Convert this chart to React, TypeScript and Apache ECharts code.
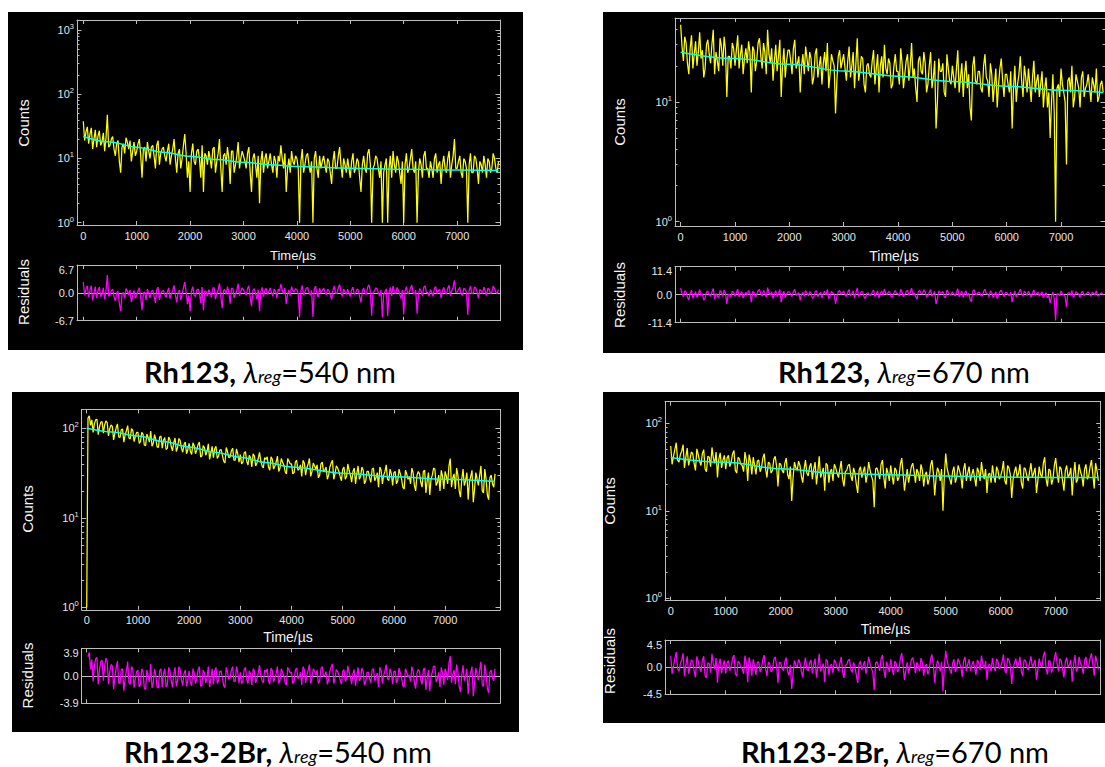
import React, { useEffect, useRef } from "react";
import * as echarts from "echarts";

// ---------------- data ----------------
const STEP_US = 25; // channel width of the decay histograms (µs)
const X_TICKS = [0, 1000, 2000, 3000, 4000, 5000, 6000, 7000];

// Rh123, λreg = 540 nm
const P1_COUNTS = [
  38, 19, 26, 31, 17, 24, 30, 14, 20, 28, 15, 22, 27, 16, 18, 25, 13, 21, 48, 15,
  16, 20, 22, 14, 11, 17, 19, 9, 6, 15, 17, 12, 21, 18, 14, 19, 9, 13, 18, 11,
  13, 17, 20, 11, 5, 14, 15, 9, 18, 13, 10, 15, 16, 11, 7, 16, 19, 8, 12, 14,
  15, 11, 9, 13, 17, 8, 11, 14, 20, 10, 6, 12, 14, 7, 10, 16, 24, 12, 5, 9,
  3, 12, 17, 9, 8, 13, 14, 10, 5, 16, 3, 12, 11, 8, 13, 10, 7, 14, 15, 6,
  9, 12, 20, 7, 3, 11, 12, 8, 15, 10, 4, 13, 13, 6, 8, 11, 18, 7, 10, 13,
  11, 9, 7, 12, 15, 6, 3, 10, 12, 8, 5, 11, 2, 9, 13, 6, 10, 12, 7, 9,
  12, 8, 6, 11, 9, 5, 11, 9, 16, 10, 7, 12, 3, 7, 10, 6, 13, 9, 8, 11,
  10, 7, 1, 9, 14, 6, 8, 11, 12, 8, 6, 9, 1, 10, 13, 7, 5, 11, 7, 9,
  11, 8, 6, 10, 9, 6, 4, 9, 13, 7, 7, 11, 15, 8, 5, 10, 8, 6, 10, 7,
  5, 9, 12, 6, 7, 10, 9, 5, 3, 8, 11, 7, 6, 12, 14, 8, 1, 7, 8, 11,
  10, 7, 5, 9, 1, 6, 8, 10, 1, 7, 11, 5, 13, 8, 6, 11, 9, 6, 4, 9,
  1, 8, 12, 6, 7, 10, 14, 7, 6, 9, 1, 6, 10, 8, 5, 11, 13, 7, 7, 5,
  9, 7, 5, 10, 12, 6, 8, 9, 4, 8, 11, 7, 6, 10, 13, 5, 8, 11, 20, 7,
  7, 9, 11, 6, 5, 10, 9, 7, 1, 8, 12, 6, 6, 11, 10, 7, 4, 9, 8, 6,
  11, 8, 5, 10, 9, 6, 7, 12, 10, 7, 6, 9,
];
const P1_RESID = [
  2.6, -0.6, 0.9, 1.7, -1.0, 0.6, 1.7, -1.8, -0.1, 1.5, -1.3, 0.5, 1.4, -0.9, -0.3, 1.2, -1.6, 0.5, 4.3, -0.8,
  -0.5, 0.5, 0.9, -0.9, -1.9, -0.1, 0.4, -2.6, -4.4, -0.4, 0.1, -1.3, 1.0, 0.5, -0.5, 0.7, -2.2, -0.7, 0.6, -1.3,
  -0.6, 0.5, 1.2, -1.1, -4.2, -0.1, 0.2, -1.7, 0.9, -0.2, -1.2, 0.4, 0.6, -0.7, -2.4, 0.7, 1.4, -1.7, -0.2, 0.4,
  0.6, -0.4, -1.1, 0.2, 1.2, -1.4, -0.3, 0.6, 1.8, -0.5, -2.3, 0.1, 0.7, -1.7, -0.4, 1.2, 2.6, 0.3, -2.7, -0.6,
  -4.5, 0.4, 1.5, -0.6, -0.9, 0.7, 0.9, -0.1, -2.4, 1.4, -4.2, 0.5, 0.3, -0.7, 0.8, 0.0, -1.1, 1.1, 1.3, -1.5,
  -0.2, 0.7, 2.3, -0.9, -3.7, 0.5, 0.8, -0.4, 1.5, 0.3, -2.6, 1.1, 1.1, -1.2, -0.3, 0.6, 2.2, -0.7, 0.4, 1.2,
  0.7, 0.1, -0.6, 1.0, 1.7, -1.0, -3.2, 0.5, 1.0, -0.1, -1.5, 0.8, -4.4, 0.3, 1.3, -0.9, 0.6, 1.1, -0.4, 0.3,
  1.2, 0.0, -0.8, 0.9, 0.4, -1.3, 0.9, 0.4, 2.1, 0.7, -0.3, 1.2, -2.7, -0.3, 0.7, -0.7, 1.5, 0.5, 0.2, 1.0,
  0.8, -0.2, -5.9, 0.5, 1.8, -0.6, 0.2, 1.1, 1.3, 0.2, -0.6, 0.6, -5.8, 0.9, 1.6, -0.1, -1.0, 1.1, -0.1, 0.6,
  1.1, 0.3, -0.5, 0.9, 0.6, -0.5, -1.6, 0.6, 1.6, -0.1, -0.1, 1.2, 2.0, 0.3, -0.9, 0.9, 0.3, -0.4, 0.9, 0.0,
  -0.9, 0.7, 1.4, -0.4, 0.0, 0.9, 0.7, -0.9, -2.3, 0.4, 1.2, 0.0, -0.4, 1.4, 1.9, 0.4, -5.5, 0.0, 0.4, 1.2,
  1.0, 0.0, -0.8, 0.7, -5.9, -0.4, 0.4, 1.0, -5.6, 0.1, 1.3, -0.8, 1.7, 0.4, -0.3, 1.3, 0.7, -0.3, -1.4, 0.7,
  -5.2, 0.4, 1.5, -0.3, 0.1, 1.0, 1.9, 0.1, -0.3, 0.7, -5.0, -0.3, 1.0, 0.5, -0.8, 1.3, 1.7, 0.1, 0.1, -0.8,
  0.8, 0.1, -0.8, 1.0, 1.5, -0.3, 0.5, 0.8, -1.3, 0.5, 1.3, 0.1, -0.3, 1.1, 1.8, -0.7, 0.5, 1.3, 3.0, 0.1,
  0.2, 0.8, 1.3, -0.2, -0.7, 1.1, 0.8, 0.2, -5.3, 0.5, 1.6, -0.2, -0.2, 1.4, 1.1, 0.2, -1.3, 0.8, 0.5, -0.2,
  1.4, 0.5, -0.7, 1.1, 0.8, -0.2, 0.2, 1.6, 1.1, 0.2, -0.2, 0.8,
];
const P1_FIT_T = [0, 500, 1000, 1500, 2000, 2500, 3000, 3500, 4000, 5000, 6000, 7000, 7775];
const P1_FIT = [22, 18, 15, 12.5, 10.8, 9.6, 8.7, 8.0, 7.5, 7.05, 6.8, 6.6, 6.5];
const P1_DECADES = [0, 1, 2, 3];
const P1_RES_LIMIT = 6.7;

// Rh123, λreg = 670 nm
const P2_COUNTS = [
  44, 29, 22, 35, 31, 21, 17, 28, 36, 19, 25, 32, 20, 26, 38, 23, 27, 16, 19, 30,
  33, 25, 21, 30, 40, 17, 26, 22, 18, 34, 29, 20, 35, 27, 11, 24, 24, 19, 31, 28,
  20, 27, 36, 19, 25, 30, 17, 23, 28, 21, 32, 26, 12, 29, 27, 18, 22, 31, 34, 24,
  19, 31, 26, 17, 40, 25, 21, 28, 15, 22, 30, 18, 24, 33, 11, 20, 28, 16, 22, 27,
  27, 22, 17, 28, 33, 19, 21, 24, 12, 20, 25, 17, 29, 23, 18, 26, 23, 14, 16, 25,
  28, 16, 20, 24, 14, 21, 26, 18, 31, 13, 17, 25, 22, 20, 8, 15, 24, 27, 19, 22,
  25, 19, 15, 22, 29, 16, 20, 26, 13, 21, 34, 15, 18, 24, 23, 14, 12, 20, 21, 17,
  16, 22, 27, 14, 19, 25, 12, 20, 24, 16, 30, 19, 17, 23, 21, 13, 14, 20, 25, 18,
  18, 14, 28, 21, 13, 17, 22, 25, 15, 20, 31, 16, 19, 13, 10, 22, 24, 18, 17, 26,
  21, 12, 14, 20, 26, 13, 16, 22, 6, 10, 23, 18, 18, 21, 12, 11, 25, 19, 15, 14,
  20, 16, 13, 19, 27, 12, 16, 21, 11, 17, 22, 13, 17, 9, 7, 20, 24, 15, 14, 18,
  18, 13, 12, 20, 25, 16, 15, 11, 21, 17, 10, 14, 19, 9, 14, 19, 23, 15, 11, 17,
  17, 14, 12, 18, 6, 13, 20, 10, 14, 17, 24, 15, 11, 20, 16, 12, 19, 14, 10, 16,
  22, 12, 15, 17, 11, 14, 18, 9, 13, 16, 9, 12, 5, 10, 17, 8, 1, 13, 14, 11,
  19, 14, 12, 10, 3, 15, 16, 12, 20, 9, 11, 17, 15, 13, 9, 16, 18, 11, 13, 14,
  17, 13, 10, 16, 14, 12, 19, 10, 11, 14, 15, 12,
];
const P2_RESID = [
  2.7, 0.6, -0.8, 1.6, 1.0, -1.0, -2.1, 0.5, 1.8, -1.4, -0.1, 1.2, -1.1, 0.2, 2.1, -0.4, 0.4, -2.2, -1.3, 1.0,
  1.5, 0.1, -0.7, 1.0, 2.5, -1.7, 0.4, -0.4, -1.4, 1.7, 1.0, -0.8, 1.9, 0.7, -3.8, 0.1, 0.1, -1.0, 1.4, 0.9,
  -0.7, 0.8, 2.2, -0.9, 0.4, 1.3, -1.4, 0.1, 1.0, -0.3, 1.7, 0.7, -3.0, 1.3, 0.9, -1.0, 0.0, 1.6, 2.1, 0.4,
  -0.6, 1.7, 0.8, -1.1, 2.9, 0.7, -0.1, 1.2, -1.6, 0.1, 1.6, -0.7, 0.6, 2.1, -3.0, -0.2, 1.4, -1.2, 0.3, 1.2,
  1.2, 0.3, -0.8, 1.4, 2.2, -0.3, 0.2, 0.8, -2.3, 0.0, 1.0, -0.7, 1.7, 0.7, -0.4, 1.2, 0.7, -1.5, -0.9, 1.1,
  1.6, -0.8, 0.2, 1.0, -1.4, 0.4, 1.4, -0.2, 2.2, -1.6, -0.4, 1.3, 0.7, 0.3, -3.7, -0.9, 1.2, 1.7, 0.2, 0.8,
  1.4, 0.2, -0.8, 0.9, 2.1, -0.5, 0.5, 1.6, -1.3, 0.7, 2.8, -0.7, 0.1, 1.3, 1.2, -0.9, -1.6, 0.6, 0.8, -0.1,
  -0.3, 1.0, 1.9, -0.8, 0.4, 1.6, -1.4, 0.7, 1.5, -0.2, 2.4, 0.5, 0.1, 1.3, 1.0, -1.0, -0.7, 0.8, 1.7, 0.4,
  0.4, -0.6, 2.2, 1.0, -0.9, 0.2, 1.2, 1.8, -0.3, 0.9, 2.7, 0.0, 0.7, -0.8, -1.8, 1.3, 1.7, 0.5, 0.3, 2.0,
  1.2, -1.0, -0.4, 1.0, 2.1, -0.7, 0.2, 1.4, -3.8, -1.7, 1.6, 0.7, 0.7, 1.3, -0.9, -1.2, 2.0, 0.9, 0.0, -0.2,
  1.2, 0.3, -0.5, 1.0, 2.4, -0.8, 0.4, 1.4, -1.1, 0.6, 1.6, -0.4, 0.6, -1.8, -2.8, 1.3, 2.0, 0.2, 0.0, 0.9,
  0.9, -0.3, -0.6, 1.3, 2.2, 0.5, 0.3, -0.9, 1.6, 0.8, -1.2, 0.1, 1.2, -1.6, 0.1, 1.2, 1.9, 0.3, -0.8, 0.8,
  0.8, 0.1, -0.4, 1.1, -3.0, -0.1, 1.5, -1.0, 0.2, 0.9, 2.2, 0.5, -0.7, 1.5, 0.7, -0.3, 1.4, 0.3, -1.0, 0.8,
  1.9, -0.3, 0.5, 1.0, -0.6, 0.3, 1.2, -1.3, 0.1, 0.8, -1.3, -0.2, -3.4, -0.8, 1.1, -1.6, -10.5, 0.1, 0.4, -0.5,
  1.5, 0.4, -0.1, -0.8, -5.0, 0.7, 0.9, -0.1, 1.7, -1.1, -0.4, 1.2, 0.7, 0.2, -1.1, 0.9, 1.4, -0.4, 0.2, 0.5,
  1.2, 0.2, -0.7, 1.0, 0.5, 0.0, 1.6, -0.6, -0.3, 0.5, 0.8, 0.0,
];
const P2_FIT_T = [0, 1000, 2000, 3000, 4000, 5000, 6000, 7000, 7775];
const P2_FIT = [26, 23, 20.6, 18.1, 16.4, 14.8, 13.5, 12.5, 12.0];
const P2_DECADES = [0, 1];
const P2_RES_LIMIT = 11.4;

// Rh123-2Br, λreg = 540 nm
const P3_COUNTS = [
  1, 130, 138, 108, 124, 90, 112, 124, 126, 85, 104, 117, 119, 88, 109, 121, 116, 82, 99, 109,
  105, 74, 88, 101, 112, 80, 79, 97, 98, 70, 84, 94, 107, 78, 76, 99, 95, 71, 81, 90,
  90, 68, 71, 90, 86, 65, 64, 86, 79, 70, 93, 63, 68, 85, 75, 62, 61, 80, 82, 60,
  74, 79, 58, 60, 80, 75, 63, 56, 69, 78, 55, 61, 77, 73, 60, 54, 66, 70, 52, 58,
  68, 55, 51, 69, 64, 52, 57, 66, 70, 48, 49, 64, 61, 50, 55, 67, 45, 53, 63, 47,
  59, 63, 46, 49, 57, 58, 50, 43, 41, 61, 55, 47, 48, 56, 60, 44, 44, 59, 52, 42,
  51, 40, 42, 53, 55, 43, 39, 50, 47, 37, 52, 49, 38, 41, 46, 54, 43, 38, 36, 47,
  45, 48, 37, 34, 48, 45, 35, 38, 42, 49, 33, 36, 46, 42, 39, 33, 31, 46, 43, 40,
  40, 31, 32, 42, 44, 34, 35, 39, 29, 44, 41, 30, 36, 40, 46, 29, 33, 41, 38, 35,
  39, 28, 30, 40, 42, 33, 34, 37, 27, 30, 37, 41, 44, 27, 31, 38, 36, 33, 29, 26,
  35, 37, 27, 29, 40, 34, 30, 25, 33, 36, 24, 31, 38, 27, 29, 37, 34, 24, 26, 33,
  33, 28, 25, 35, 36, 26, 28, 32, 22, 37, 34, 24, 30, 33, 39, 27, 26, 35, 31, 23,
  32, 33, 24, 26, 35, 31, 27, 22, 21, 34, 31, 27, 29, 24, 36, 32, 23, 20, 30, 33,
  31, 25, 22, 33, 34, 19, 26, 32, 18, 27, 30, 36, 35, 23, 25, 30, 20, 34, 29, 21,
  33, 29, 24, 38, 46, 22, 28, 31, 21, 36, 30, 20, 17, 27, 35, 23, 26, 32, 16, 25,
  29, 34, 15, 21, 32, 27, 23, 30, 38, 20, 19, 35, 27, 18, 16, 28, 30, 24, 22, 31,
];
const P3_RESID: (number | null)[] = [
  null, 2.7, 3.3, 0.9, 2.3, -0.8, 1.4, 2.4, 2.6, -1.2, 0.8, 2.0, 2.2, -0.7, 1.4, 2.5, 2.1, -1.2, 0.6, 1.6,
  1.4, -1.9, -0.2, 1.1, 2.1, -1.0, -1.1, 0.9, 1.0, -2.1, -0.4, 0.7, 2.0, -1.0, -1.2, 1.3, 1.0, -1.7, -0.4, 0.6,
  0.8, -1.6, -1.2, 1.0, 0.6, -1.8, -1.9, 0.8, 0.1, -0.9, 1.7, -1.7, -1.0, 1.0, 0.0, -1.6, -1.7, 0.7, 1.0, -1.6,
  0.3, 1.0, -1.6, -1.3, 1.2, 0.7, -0.7, -1.6, 0.2, 1.2, -1.5, -0.7, 1.3, 0.9, -0.6, -1.4, 0.3, 0.8, -1.5, -0.6,
  0.7, -0.9, -1.4, 1.0, 0.4, -1.1, -0.4, 0.8, 1.3, -1.5, -1.3, 0.8, 0.4, -1.0, -0.2, 1.3, -1.6, -0.4, 1.0, -1.2,
  0.7, 1.2, -1.1, -0.6, 0.6, 0.7, -0.3, -1.4, -1.7, 1.2, 0.5, -0.5, -0.3, 0.8, 1.3, -0.8, -0.8, 1.3, 0.5, -1.0,
  0.5, -1.1, -0.8, 0.9, 1.2, -0.5, -1.1, 0.7, 0.3, -1.3, 1.0, 0.7, -1.0, -0.4, 0.4, 1.5, 0.0, -0.7, -1.0, 0.8,
  0.5, 1.0, -0.7, -1.2, 1.1, 0.7, -0.9, -0.3, 0.3, 1.3, -1.1, -0.6, 1.0, 0.5, 0.0, -1.0, -1.3, 1.2, 0.8, 0.4,
  0.5, -1.1, -0.8, 0.8, 1.1, -0.4, -0.2, 0.5, -1.3, 1.3, 0.9, -1.0, 0.1, 0.8, 1.6, -1.1, -0.3, 1.0, 0.6, 0.1,
  0.8, -1.1, -0.7, 1.0, 1.3, -0.1, 0.1, 0.6, -1.2, -0.5, 0.7, 1.3, 1.7, -1.1, -0.3, 0.9, 0.6, 0.2, -0.6, -1.2,
  0.6, 0.9, -0.8, -0.4, 1.4, 0.5, -0.2, -1.2, 0.3, 0.9, -1.4, 0.0, 1.2, -0.7, -0.3, 1.1, 0.6, -1.3, -0.8, 0.5,
  0.5, -0.4, -1.0, 0.9, 1.0, -0.7, -0.3, 0.4, -1.6, 1.2, 0.8, -1.1, 0.1, 0.7, 1.6, -0.4, -0.6, 1.0, 0.4, -1.2,
  0.6, 0.7, -1.0, -0.5, 1.1, 0.4, -0.3, -1.4, -1.6, 1.0, 0.5, -0.2, 0.1, -0.8, 1.3, 0.7, -1.0, -1.8, 0.4, 0.9,
  0.6, -0.6, -1.2, 0.9, 1.1, -2.0, -0.3, 0.8, -2.2, -0.1, 0.5, 1.4, 1.3, -0.9, -0.4, 0.5, -1.6, 1.2, 0.4, -1.3,
  1.0, 0.4, -0.6, 1.8, 2.8, -1.0, 0.2, 0.8, -1.2, 1.6, 0.6, -1.5, -2.3, 0.1, 1.5, -0.7, -0.1, 1.0, -2.6, -0.3,
  0.5, 1.3, -2.9, -1.1, 1.1, 0.2, -0.6, 0.8, 2.0, -1.3, -1.5, 1.6, 0.3, -1.8, -2.4, 0.5, 0.8, -0.3, -0.7, 1.0,
];
const P3_FIT_T = [0, 500, 1000, 1500, 2000, 2500, 3000, 3500, 4000, 5000, 6000, 7000, 7975];
const P3_FIT = [100, 91, 82, 71, 62, 54, 47.5, 41.5, 37, 31.5, 28.8, 27, 25.4];
const P3_DECADES = [0, 1, 2];
const P3_RES_LIMIT = 3.9;

// Rh123-2Br, λreg = 670 nm
const P4_COUNTS = [
  55, 34, 42, 50, 60, 38, 36, 44, 48, 57, 31, 41, 52, 33, 39, 47, 45, 35, 29, 51,
  44, 37, 33, 45, 50, 30, 28, 42, 41, 32, 53, 40, 35, 47, 24, 39, 46, 31, 38, 43,
  30, 40, 43, 32, 36, 45, 49, 29, 27, 41, 39, 34, 33, 28, 47, 38, 22, 44, 37, 26,
  41, 33, 26, 37, 38, 28, 31, 40, 45, 30, 24, 36, 35, 27, 29, 39, 42, 32, 19, 35,
  34, 29, 27, 35, 40, 26, 23, 32, 13, 24, 36, 31, 29, 37, 33, 25, 21, 30, 38, 27,
  25, 32, 35, 23, 30, 36, 20, 28, 42, 24, 27, 31, 17, 35, 33, 21, 28, 30, 22, 34,
  31, 27, 24, 30, 37, 23, 19, 28, 29, 33, 34, 25, 22, 31, 27, 20, 16, 29, 32, 24,
  28, 32, 21, 26, 36, 29, 25, 22, 11, 30, 31, 27, 23, 34, 38, 24, 18, 31, 27, 22,
  33, 25, 20, 31, 29, 22, 24, 34, 40, 27, 17, 23, 30, 21, 26, 32, 35, 28, 21, 30,
  27, 22, 34, 29, 19, 26, 28, 20, 23, 33, 38, 27, 15, 24, 31, 28, 22, 30, 10, 25,
  45, 31, 26, 23, 20, 28, 32, 21, 24, 33, 29, 25, 18, 30, 35, 22, 27, 32, 22, 26,
  30, 24, 19, 31, 28, 22, 36, 27, 23, 30, 16, 26, 27, 21, 33, 25, 21, 32, 29, 23,
  25, 29, 37, 22, 20, 33, 31, 26, 14, 23, 28, 32, 24, 27, 34, 21, 18, 31, 30, 25,
  22, 28, 35, 24, 27, 31, 16, 22, 32, 26, 24, 35, 41, 23, 19, 30, 29, 20, 23, 33,
  40, 27, 21, 32, 30, 22, 17, 29, 33, 24, 26, 31, 15, 26, 36, 21, 23, 34, 28, 25,
  19, 30, 34, 23, 25, 32, 38, 26, 18, 35, 29, 22,
];
const P4_RESID = [
  1.9, -1.1, 0.2, 1.4, 2.5, -0.3, -0.7, 0.6, 1.2, 2.3, -1.5, 0.3, 1.8, -1.1, 0.0, 1.2, 1.0, -0.6, -1.7, 1.8,
  0.9, -0.1, -0.8, 1.1, 1.8, -1.4, -1.8, 0.7, 0.6, -0.9, 2.2, 0.5, -0.3, 1.5, -2.6, 0.4, 1.4, -1.0, 0.3, 1.1,
  -1.1, 0.7, 1.1, -0.6, 0.1, 1.5, 2.0, -1.1, -1.5, 1.0, 0.7, 0.0, -0.2, -1.1, 1.9, 0.7, -2.5, 1.6, 0.6, -1.4,
  1.3, 0.1, -1.3, 0.8, 0.9, -0.8, -0.2, 1.3, 2.0, -0.3, -1.5, 0.8, 0.6, -0.8, -0.4, 1.3, 1.7, 0.2, -2.6, 0.8,
  0.7, -0.2, -0.6, 0.9, 1.6, -0.7, -1.4, 0.4, -3.6, -1.1, 1.1, 0.3, 0.0, 1.3, 0.7, -0.7, -1.7, 0.3, 1.6, -0.3,
  -0.6, 0.7, 1.2, -1.0, 0.4, 1.4, -1.7, 0.1, 2.2, -0.7, -0.1, 0.6, -2.5, 1.3, 1.0, -1.3, 0.2, 0.5, -1.0, 1.2,
  0.8, 0.0, -0.6, 0.6, 1.7, -0.8, -1.8, 0.3, 0.4, 1.1, 1.3, -0.3, -0.9, 0.8, 0.1, -1.4, -2.6, 0.5, 1.0, -0.5,
  0.3, 1.0, -1.1, 0.0, 1.7, 0.5, -0.2, -0.9, -3.8, 0.7, 0.9, 0.2, -0.6, 1.4, 2.0, -0.4, -1.8, 0.9, 0.2, -0.8,
  1.3, -0.2, -1.3, 1.0, 0.6, -0.8, -0.3, 1.4, 2.3, 0.3, -2.1, -0.5, 0.8, -1.0, 0.1, 1.2, 1.6, 0.5, -1.0, 0.8,
  0.3, -0.7, 1.5, 0.7, -1.4, 0.2, 0.5, -1.2, -0.5, 1.4, 2.1, 0.4, -2.6, -0.2, 1.1, 0.5, -0.7, 0.9, -4.0, 0.0,
  2.7, 1.1, 0.2, -0.4, -1.1, 0.6, 1.3, -0.8, -0.2, 1.4, 0.8, 0.0, -1.6, 1.0, 1.7, -0.6, 0.5, 1.3, -0.6, 0.3,
  1.0, -0.1, -1.3, 1.2, 0.7, -0.5, 1.9, 0.5, -0.3, 1.0, -2.1, 0.3, 0.5, -0.7, 1.5, 0.1, -0.7, 1.4, 0.9, -0.3,
  0.1, 0.9, 2.1, -0.5, -1.0, 1.5, 1.2, 0.3, -2.8, -0.3, 0.7, 1.4, -0.1, 0.5, 1.7, -0.7, -1.5, 1.2, 1.1, 0.2,
  -0.5, 0.7, 1.8, 0.0, 0.5, 1.2, -2.1, -0.4, 1.4, 0.4, 0.0, 1.8, 2.6, -0.2, -1.2, 1.1, 0.9, -0.9, -0.2, 1.5,
  2.5, 0.6, -0.7, 1.4, 1.1, -0.4, -1.7, 0.9, 1.6, 0.0, 0.4, 1.2, -2.4, 0.4, 2.0, -0.7, -0.2, 1.7, 0.7, 0.2,
  -1.1, 1.1, 1.7, -0.2, 0.2, 1.4, 2.3, 0.4, -1.4, 1.9, 0.9, -0.4,
];
const P4_FIT_T = [0, 1000, 2000, 3000, 4000, 5000, 6000, 7000, 7775];
const P4_FIT = [40.8, 35.8, 30.2, 26.8, 25.8, 25, 24.3, 24.1, 24];
const P4_DECADES = [0, 1, 2];
const P4_RES_LIMIT = 4.5;

const CAPTION_NAMES = ["Rh123,", "Rh123,", "Rh123-2Br,", "Rh123-2Br,"];
const CAPTION_WAVELENGTHS = ["540", "670", "540", "670"];

// ---------------- layout / style ----------------
const FONT = "'Liberation Sans', Arial, sans-serif";
const CAP_FONT = "Lato, 'Open Sans', sans-serif";
const FRAME = "#bdbdbd";
const LABEL = "#e6e6e6";
const TITLE = "#f4f4f4";
const YELLOW = "#ffff00";
const CYAN = "#00ffff";
const MAGENTA = "#ff00ff";

type Box = { left: number; top: number; width: number; height: number };
type Layout = {
  bg: [number, number, number, number];
  counts: Box;
  resid: Box;
  xr: [number, number];
  yr: [number, number];
  countsTitle: [number, number];
  timeTitle: [number, number];
  residTitle: [number, number];
  timeSize: number;
  caption: [number, number];
};

const LAYOUT: Layout[] = [
  {
    bg: [8, 12, 515, 338],
    counts: { left: 77, top: 20, width: 423, height: 205 },
    resid: { left: 77, top: 265, width: 423, height: 55.7 },
    xr: [-118, 7803],
    yr: [-0.036, 3.156],
    countsTitle: [23.5, 123],
    timeTitle: [293, 255],
    residTitle: [23.5, 292],
    timeSize: 13,
    caption: [270, 371],
  },
  {
    bg: [603, 12, 520, 341],
    counts: { left: 675, top: 18, width: 455, height: 208 },
    resid: { left: 675, top: 266.7, width: 455, height: 56 },
    xr: [-104, 7809],
    yr: [-0.036, 1.7],
    countsTitle: [619, 122],
    timeTitle: [894, 256],
    residTitle: [619, 295],
    timeSize: 14,
    caption: [904, 371],
  },
  {
    bg: [12, 392, 507, 340],
    counts: { left: 81.7, top: 409.3, width: 418.3, height: 200.5 },
    resid: { left: 81.7, top: 648.3, width: 418.3, height: 55 },
    xr: [-98, 8072],
    yr: [-0.026, 2.212],
    countsTitle: [27, 509],
    timeTitle: [288, 637],
    residTitle: [27.5, 675.5],
    timeSize: 14,
    caption: [278, 751],
  },
  {
    bg: [603, 392, 520, 331],
    counts: { left: 665, top: 401.7, width: 435.7, height: 199 },
    resid: { left: 665, top: 640, width: 435.7, height: 54.3 },
    xr: [-104, 7818],
    yr: [-0.027, 2.247],
    countsTitle: [609.5, 501],
    timeTitle: [885.5, 629],
    residTitle: [609, 661],
    timeSize: 14,
    caption: [895, 751],
  },
];

type Panel = {
  counts: number[];
  resid: (number | null)[];
  fitT: number[];
  fit: number[];
  decades: number[];
  resLimit: number;
};

const PANELS: Panel[] = [
  { counts: P1_COUNTS, resid: P1_RESID, fitT: P1_FIT_T, fit: P1_FIT, decades: P1_DECADES, resLimit: P1_RES_LIMIT },
  { counts: P2_COUNTS, resid: P2_RESID, fitT: P2_FIT_T, fit: P2_FIT, decades: P2_DECADES, resLimit: P2_RES_LIMIT },
  { counts: P3_COUNTS, resid: P3_RESID, fitT: P3_FIT_T, fit: P3_FIT, decades: P3_DECADES, resLimit: P3_RES_LIMIT },
  { counts: P4_COUNTS, resid: P4_RESID, fitT: P4_FIT_T, fit: P4_FIT, decades: P4_DECADES, resLimit: P4_RES_LIMIT },
];

function minorLogTicks(lo: number, hi: number): number[] {
  const out: number[] = [];
  for (let d = Math.floor(lo); d <= Math.ceil(hi); d++) {
    for (let k = 2; k <= 9; k++) {
      const v = d + Math.log10(k);
      if (v > lo && v < hi) out.push(v);
    }
  }
  return out;
}

function buildOption() {
  const grid: any[] = [];
  const xAxis: any[] = [];
  const yAxis: any[] = [];
  const series: any[] = [];
  const graphic: any[] = [];

  const axisLine = { show: true, onZero: false, lineStyle: { color: FRAME, width: 1 } };

  const makeX = (g: number, position: string, labels: boolean, xr: [number, number]) => ({
    type: "value",
    gridIndex: g,
    position,
    min: xr[0],
    max: xr[1],
    axisLine,
    axisTick: { show: true, inside: true, length: 4, customValues: X_TICKS, lineStyle: { color: FRAME, width: 1 } },
    axisLabel: labels
      ? {
          show: true,
          customValues: X_TICKS,
          color: LABEL,
          fontSize: 11,
          fontFamily: FONT,
          margin: 5,
          formatter: (v: number) => String(Math.round(v)),
        }
      : { show: false },
    splitLine: { show: false },
  });

  PANELS.forEach((p, k) => {
    const L = LAYOUT[k];
    const gC = grid.length;
    grid.push({ ...L.counts });
    const gR = grid.length;
    grid.push({ ...L.resid });

    const xC = xAxis.length;
    xAxis.push(makeX(gC, "bottom", true, L.xr));
    xAxis.push(makeX(gC, "top", false, L.xr));
    const xR = xAxis.length;
    xAxis.push(makeX(gR, "bottom", false, L.xr));
    xAxis.push(makeX(gR, "top", false, L.xr));

    const minor = minorLogTicks(L.yr[0], L.yr[1]);
    const yC = yAxis.length;
    ["left", "right"].forEach((pos) => {
      yAxis.push({
        type: "value",
        gridIndex: gC,
        position: pos,
        min: L.yr[0],
        max: L.yr[1],
        axisLine,
        axisTick: { show: true, inside: true, length: 4.5, customValues: p.decades, lineStyle: { color: FRAME } },
        axisLabel:
          pos === "left"
            ? {
                show: true,
                customValues: p.decades,
                margin: 3,
                color: LABEL,
                fontFamily: FONT,
                formatter: (v: number) => `{b|10}{s|${Math.round(v)}}`,
                rich: {
                  b: { fontSize: 11, fontFamily: FONT, color: LABEL },
                  s: { fontSize: 7.5, fontFamily: FONT, color: LABEL, padding: [0, 0, 7, 0] },
                },
              }
            : { show: false },
        splitLine: { show: false },
      });
      yAxis.push({
        type: "value",
        gridIndex: gC,
        position: pos,
        min: L.yr[0],
        max: L.yr[1],
        axisLine: { show: false, onZero: false },
        axisTick: { show: true, inside: true, length: 2.5, customValues: minor, lineStyle: { color: FRAME } },
        axisLabel: { show: false },
        splitLine: { show: false },
      });
    });

    const lim = p.resLimit;
    const resTicks = [-lim, 0, lim];
    const yR = yAxis.length;
    ["left", "right"].forEach((pos) => {
      yAxis.push({
        type: "value",
        gridIndex: gR,
        position: pos,
        min: -lim,
        max: lim,
        axisLine,
        axisTick: { show: true, inside: true, length: 4, customValues: resTicks, lineStyle: { color: FRAME } },
        axisLabel:
          pos === "left"
            ? {
                show: true,
                customValues: resTicks,
                showMinLabel: true,
                showMaxLabel: true,
                margin: 3,
                color: LABEL,
                fontFamily: FONT,
                fontSize: 11,
                formatter: (v: number) =>
                  v > 0 ? `{t|${lim.toFixed(1)}}` : `{n|${(v < 0 ? -lim : 0).toFixed(1)}}`,
                rich: {
                  t: { fontSize: 11, fontFamily: FONT, color: LABEL, padding: [9, 0, 0, 0] },
                  n: { fontSize: 11, fontFamily: FONT, color: LABEL },
                },
              }
            : { show: false },
        splitLine: { show: false },
      });
    });

    const label = `${CAPTION_NAMES[k]} ${CAPTION_WAVELENGTHS[k]} nm`;
    series.push({
      type: "line",
      name: `${label} counts`,
      xAxisIndex: xC,
      yAxisIndex: yC,
      data: p.counts.map((c, i) => [i * STEP_US, Math.log10(c)]),
      showSymbol: false,
      symbol: "none",
      silent: true,
      lineStyle: { color: YELLOW, width: 1.25 },
      itemStyle: { color: YELLOW },
      z: 2,
    });
    series.push({
      type: "line",
      name: `${label} fit`,
      xAxisIndex: xC,
      yAxisIndex: yC,
      data: p.fitT.map((t, i) => [t, Math.log10(p.fit[i])]),
      showSymbol: false,
      symbol: "none",
      silent: true,
      smooth: 0.35,
      smoothMonotone: "x",
      lineStyle: { color: CYAN, width: 1.5 },
      itemStyle: { color: CYAN },
      z: 3,
    });
    series.push({
      type: "line",
      name: `${label} residuals`,
      xAxisIndex: xR,
      yAxisIndex: yR,
      data: p.resid.flatMap((r, i) => (r == null ? [] : [[i * STEP_US, r]])),
      showSymbol: false,
      symbol: "none",
      silent: true,
      lineStyle: { color: MAGENTA, width: 1.25 },
      itemStyle: { color: MAGENTA },
      z: 3,
      markLine: {
        silent: true,
        z: 1,
        symbol: ["none", "none"],
        label: { show: false },
        lineStyle: { color: FRAME, width: 1, type: "solid" },
        data: [{ yAxis: 0 }],
      },
    });

    // panel background
    graphic.push({
      type: "rect",
      z: -100,
      silent: true,
      shape: { x: L.bg[0], y: L.bg[1], width: L.bg[2], height: L.bg[3] },
      style: { fill: "#000000" },
    });
    // axis titles
    graphic.push({
      type: "text",
      x: L.countsTitle[0],
      y: L.countsTitle[1],
      rotation: Math.PI / 2,
      silent: true,
      style: { text: "Counts", fill: TITLE, fontSize: 15, fontFamily: FONT, textAlign: "center", textVerticalAlign: "middle" },
    });
    graphic.push({
      type: "text",
      x: L.timeTitle[0],
      y: L.timeTitle[1],
      silent: true,
      style: { text: "Time/µs", fill: TITLE, fontSize: L.timeSize, fontFamily: FONT, textAlign: "center", textVerticalAlign: "middle" },
    });
    graphic.push({
      type: "text",
      x: L.residTitle[0],
      y: L.residTitle[1],
      rotation: Math.PI / 2,
      silent: true,
      style: { text: "Residuals", fill: TITLE, fontSize: 15, fontFamily: FONT, textAlign: "center", textVerticalAlign: "middle" },
    });
    // caption
    graphic.push({
      type: "text",
      x: L.caption[0],
      y: L.caption[1],
      silent: true,
      style: {
        text: `{b|${CAPTION_NAMES[k]}} {i|λ}{s|reg}{n|=${CAPTION_WAVELENGTHS[k]} nm}`,
        fill: "#000000",
        fontSize: 29,
        fontFamily: CAP_FONT,
        textAlign: "center",
        textVerticalAlign: "middle",
        rich: {
          b: { fontSize: 29, fontWeight: "bold", fontFamily: CAP_FONT, fill: "#000", color: "#000", lineHeight: 28 },
          i: { fontSize: 29, fontStyle: "italic", fontFamily: CAP_FONT, fill: "#000", color: "#000", lineHeight: 28 },
          s: { fontSize: 18, fontStyle: "italic", fontFamily: CAP_FONT, fill: "#000", color: "#000", padding: [10, 0, 0, 0] },
          n: { fontSize: 29, fontFamily: CAP_FONT, fill: "#000", color: "#000", lineHeight: 28 },
        },
      },
    });
  });

  return {
    animation: false,
    backgroundColor: "#ffffff",
    grid,
    xAxis,
    yAxis,
    series,
    graphic,
  };
}

export default function App() {
  const ref = useRef<HTMLDivElement>(null);
  useEffect(() => {
    document.body.style.margin = "0";
    if (!ref.current) return;
    const chart = echarts.init(ref.current, undefined, { renderer: "svg" });
    chart.setOption(buildOption() as any);
    return () => chart.dispose();
  }, []);
  return <div ref={ref} style={{ width: 1105, height: 767, overflow: "hidden" }} />;
}
